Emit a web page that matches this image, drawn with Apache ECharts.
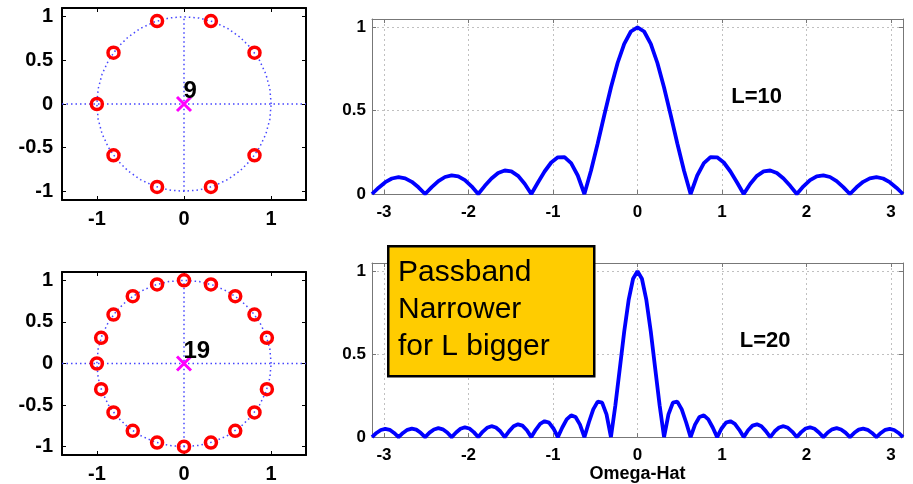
<!DOCTYPE html>
<html lang="en">
<head>
    <meta charset="UTF-8">
    <title>Running average filter - zeros and magnitude</title>
    <script type="text/javascript" src="https://cdn.jsdelivr.net/npm/echarts@6.0.0/dist/echarts.min.js"></script>
    <style>
        html, body { margin: 0; padding: 0; background: #fff; }
        #container { width: 913px; height: 484px; }
    </style>
</head>
<body>
<div id="container"></div>
<script type="text/javascript">

    // ---- data ----
    // unit circle (dotted reference), 10 degree steps
    var circleX = [1, 0.985, 0.940, 0.866, 0.766, 0.643, 0.5, 0.342, 0.174, 0, -0.174, -0.342, -0.5, -0.643, -0.766, -0.866, -0.940, -0.985,
        -1, -0.985, -0.940, -0.866, -0.766, -0.643, -0.5, -0.342, -0.174, 0, 0.174, 0.342, 0.5, 0.643, 0.766, 0.866, 0.940, 0.985, 1];
    var circleY = [0, 0.174, 0.342, 0.5, 0.643, 0.766, 0.866, 0.940, 0.985, 1, 0.985, 0.940, 0.866, 0.766, 0.643, 0.5, 0.342, 0.174,
        0, -0.174, -0.342, -0.5, -0.643, -0.766, -0.866, -0.940, -0.985, -1, -0.985, -0.940, -0.866, -0.766, -0.643, -0.5, -0.342, -0.174, 0];

    // zeros, L=10
    var zeros10X = [0.809, 0.309, -0.309, -0.809, -1, -0.809, -0.309, 0.309, 0.809];
    var zeros10Y = [0.588, 0.951, 0.951, 0.588, 0, -0.588, -0.951, -0.951, -0.588];
    // zeros, L=20
    var zeros20X = [0.951, 0.809, 0.588, 0.309, 0, -0.309, -0.588, -0.809, -0.951, -1,
        -0.951, -0.809, -0.588, -0.309, 0, 0.309, 0.588, 0.809, 0.951];
    var zeros20Y = [0.309, 0.588, 0.809, 0.951, 1, 0.951, 0.809, 0.588, 0.309, 0,
        -0.309, -0.588, -0.809, -0.951, -1, -0.951, -0.809, -0.588, -0.309];
    var poleCounts = ['9', '19'];

    // magnitude response, L=10
    var omega10 = [-3.1416, -3.0631, -2.9845, -2.9060, -2.8274, -2.7489, -2.6704, -2.5918,
        -2.5133, -2.4347, -2.3562, -2.2777, -2.1991, -2.1206, -2.0420, -1.9635,
        -1.8850, -1.8064, -1.7279, -1.6493, -1.5708, -1.4923, -1.4137, -1.3352,
        -1.2566, -1.1781, -1.0996, -1.0210, -0.9425, -0.8639, -0.7854, -0.7069,
        -0.6283, -0.5498, -0.4712, -0.3927, -0.3142, -0.2356, -0.1571, -0.0785,
        0,
        0.0785, 0.1571, 0.2356, 0.3142, 0.3927, 0.4712, 0.5498, 0.6283,
        0.7069, 0.7854, 0.8639, 0.9425, 1.0210, 1.0996, 1.1781, 1.2566,
        1.3352, 1.4137, 1.4923, 1.5708, 1.6493, 1.7279, 1.8064, 1.8850,
        1.9635, 2.0420, 2.1206, 2.1991, 2.2777, 2.3562, 2.4347, 2.5133,
        2.5918, 2.6704, 2.7489, 2.8274, 2.9060, 2.9845, 3.0631, 3.1416];
    var mag10 = [0, 0.038, 0.071, 0.093, 0.101, 0.094, 0.073, 0.040,
        0, 0.041, 0.077, 0.102, 0.112, 0.106, 0.083, 0.046,
        0, 0.049, 0.093, 0.126, 0.141, 0.136, 0.109, 0.062,
        0, 0.069, 0.135, 0.189, 0.220, 0.221, 0.185, 0.111,
        0, 0.141, 0.303, 0.474, 0.639, 0.786, 0.901, 0.975,
        1,
        0.975, 0.901, 0.786, 0.639, 0.474, 0.303, 0.141, 0,
        0.111, 0.185, 0.221, 0.220, 0.189, 0.135, 0.069, 0,
        0.062, 0.109, 0.136, 0.141, 0.126, 0.093, 0.049, 0,
        0.046, 0.083, 0.106, 0.112, 0.102, 0.077, 0.041, 0,
        0.040, 0.073, 0.094, 0.101, 0.093, 0.071, 0.038, 0];

    // magnitude response, L=20
    var omega20 = [-3.1416, -3.0892, -3.0369, -2.9845, -2.9322, -2.8798,
        -2.8274, -2.7751, -2.7227, -2.6704, -2.6180, -2.5656,
        -2.5133, -2.4609, -2.4086, -2.3562, -2.3038, -2.2515,
        -2.1991, -2.1468, -2.0944, -2.0420, -1.9897, -1.9373,
        -1.8850, -1.8326, -1.7802, -1.7279, -1.6755, -1.6232,
        -1.5708, -1.5184, -1.4661, -1.4137, -1.3614, -1.3090,
        -1.2566, -1.2043, -1.1519, -1.0996, -1.0472, -0.9948,
        -0.9425, -0.8901, -0.8378, -0.7854, -0.7330, -0.6807,
        -0.6283, -0.5760, -0.5236, -0.4712, -0.4189, -0.3665,
        -0.3142, -0.2618, -0.2094, -0.1571, -0.1047, -0.0524,
        0,
        0.0524, 0.1047, 0.1571, 0.2094, 0.2618, 0.3142,
        0.3665, 0.4189, 0.4712, 0.5236, 0.5760, 0.6283,
        0.6807, 0.7330, 0.7854, 0.8378, 0.8901, 0.9425,
        0.9948, 1.0472, 1.0996, 1.1519, 1.2043, 1.2566,
        1.3090, 1.3614, 1.4137, 1.4661, 1.5184, 1.5708,
        1.6232, 1.6755, 1.7279, 1.7802, 1.8326, 1.8850,
        1.9373, 1.9897, 2.0420, 2.0944, 2.1468, 2.1991,
        2.2515, 2.3038, 2.3562, 2.4086, 2.4609, 2.5133,
        2.5656, 2.6180, 2.6704, 2.7227, 2.7751, 2.8274,
        2.8798, 2.9322, 2.9845, 3.0369, 3.0892, 3.1416];
    var mag20 = [0, 0.025, 0.043, 0.050, 0.044, 0.025,
        0, 0.025, 0.044, 0.051, 0.045, 0.026,
        0, 0.027, 0.046, 0.054, 0.047, 0.028,
        0, 0.028, 0.050, 0.059, 0.052, 0.030,
        0, 0.032, 0.056, 0.066, 0.058, 0.035,
        0, 0.036, 0.065, 0.077, 0.069, 0.041,
        0, 0.044, 0.080, 0.096, 0.087, 0.052,
        0, 0.058, 0.107, 0.131, 0.121, 0.075,
        0, 0.088, 0.167, 0.214, 0.208, 0.137,
        0, 0.192, 0.414, 0.637, 0.827, 0.955,
        1,
        0.955, 0.827, 0.637, 0.414, 0.192, 0,
        0.137, 0.208, 0.214, 0.167, 0.088, 0,
        0.075, 0.121, 0.131, 0.107, 0.058, 0,
        0.052, 0.087, 0.096, 0.080, 0.044, 0,
        0.041, 0.069, 0.077, 0.065, 0.036, 0,
        0.035, 0.058, 0.066, 0.056, 0.032, 0,
        0.030, 0.052, 0.059, 0.050, 0.028, 0,
        0.028, 0.047, 0.054, 0.046, 0.027, 0,
        0.026, 0.045, 0.051, 0.044, 0.025, 0,
        0.025, 0.044, 0.050, 0.043, 0.025, 0];

    // tick labels
    var zpTicksX = [-1, 0, 1];
    var zpTicksY = [-1, -0.5, 0, 0.5, 1];
    var magTicksX = [-3, -2, -1, 0, 1, 2, 3];
    var magTicksY = [0, 0.5, 1];

    // ---- helpers ----
    function pairs(xs, ys) {
        var out = [];
        for (var i = 0; i < xs.length; i++) {
            out.push([xs[i], ys[i]]);
        }
        return out;
    }

    var FONT = '"Liberation Sans", Arial, sans-serif';

    // axes for the pole-zero plots (black box, ticks inside)
    function zpAxis(dim, grid, pos, withLabels) {
        var isX = dim === 'x';
        return {
            type: 'value',
            gridIndex: grid,
            position: pos,
            min: isX ? -1.4 : -1.1,
            max: isX ? 1.4 : 1.1,
            axisLine: { show: true, onZero: false, lineStyle: { color: '#000', width: 2 } },
            axisTick: { show: true, inside: true, length: 4, customValues: isX ? zpTicksX : zpTicksY,
                lineStyle: { color: '#000', width: 1 } },
            axisLabel: { show: withLabels, customValues: isX ? zpTicksX : zpTicksY,
                margin: isX ? 9 : 9, color: '#000', fontFamily: FONT, fontWeight: 'bold', fontSize: 20 },
            splitLine: { show: false }
        };
    }

    // axes for the magnitude plots (grey box, dotted grid)
    function magAxis(dim, grid, pos, withLabels) {
        var isX = dim === 'x';
        return {
            type: 'value',
            gridIndex: grid,
            position: pos,
            min: isX ? -3.1416 : 0,
            max: isX ? 3.1416 : 1.05,
            axisLine: { show: true, onZero: false, lineStyle: { color: '#777', width: 1 } },
            axisTick: { show: true, inside: true, length: 4, customValues: isX ? magTicksX : magTicksY,
                lineStyle: { color: '#777', width: 1 } },
            axisLabel: { show: withLabels, customValues: isX ? magTicksX : magTicksY,
                margin: isX ? 10 : 6, color: '#000', fontFamily: FONT, fontWeight: 'bold', fontSize: 17 },
            splitLine: { show: withLabels, lineStyle: { color: '#c0c0c0', width: 1, type: [2, 3] } }
        };
    }

    var dotted = { color: '#4646ff', width: 1.5, type: [1.5, 3] };

    function zpSeries(grid, zx, zy, count) {
        return [
            {
                type: 'line', xAxisIndex: grid, yAxisIndex: grid,
                data: pairs(circleX, circleY), showSymbol: false, lineStyle: dotted, z: 1
            },
            {
                type: 'line', xAxisIndex: grid, yAxisIndex: grid,
                data: [[-1.4, 0], [1.4, 0]], showSymbol: false, lineStyle: dotted, z: 1
            },
            {
                type: 'line', xAxisIndex: grid, yAxisIndex: grid,
                data: [[0, -1], [0, 1]], showSymbol: false, lineStyle: dotted, z: 1
            },
            {
                type: 'scatter', xAxisIndex: grid, yAxisIndex: grid,
                data: pairs(zx, zy), symbol: 'circle', symbolSize: 11,
                itemStyle: { color: 'rgba(0,0,0,0)', borderColor: '#ff0000', borderWidth: 3.5, opacity: 1 }, z: 3
            },
            {
                type: 'scatter', xAxisIndex: grid, yAxisIndex: grid,
                data: [[0, 0]], symbol: 'path://M0,0L10,10M10,0L0,10', symbolSize: 14,
                itemStyle: { color: 'none', borderColor: '#ff00ff', borderWidth: 3, opacity: 1 },
                label: { show: true, formatter: count, position: [9, -15], color: '#000',
                    fontFamily: FONT, fontWeight: 'bold', fontSize: 24 },
                z: 4
            }
        ];
    }

    function magSeries(grid, xs, ys, name, at) {
        return [
            {
                type: 'line', xAxisIndex: grid, yAxisIndex: grid,
                data: pairs(xs, ys), showSymbol: false,
                lineStyle: { color: '#0000ff', width: 3.8 }, z: 3
            },
            {
                type: 'scatter', xAxisIndex: grid, yAxisIndex: grid,
                data: [at], symbolSize: 1, itemStyle: { color: 'rgba(0,0,0,0)' },
                label: { show: true, formatter: name, position: 'inside', color: '#000', opacity: 1,
                    textBorderWidth: 0, fontFamily: FONT, fontWeight: 'bold', fontSize: 22 }
            }
        ];
    }

    var dom = document.getElementById('container');
    var myChart = echarts.init(dom, null, { renderer: 'canvas' });

    var xAxes = [
        zpAxis('x', 0, 'bottom', true), zpAxis('x', 1, 'bottom', true),
        magAxis('x', 2, 'bottom', true), magAxis('x', 3, 'bottom', true),
        zpAxis('x', 0, 'top', false), zpAxis('x', 1, 'top', false),
        magAxis('x', 2, 'top', false), magAxis('x', 3, 'top', false)
    ];
    xAxes[3].name = 'Omega-Hat';
    xAxes[3].nameLocation = 'middle';
    xAxes[3].nameGap = 27;
    xAxes[3].nameTextStyle = { color: '#000', fontFamily: FONT, fontWeight: 'bold', fontSize: 18 };

    var yAxes = [
        zpAxis('y', 0, 'left', true), zpAxis('y', 1, 'left', true),
        magAxis('y', 2, 'left', true), magAxis('y', 3, 'left', true),
        zpAxis('y', 0, 'right', false), zpAxis('y', 1, 'right', false),
        magAxis('y', 2, 'right', false), magAxis('y', 3, 'right', false)
    ];

    var option = {
        backgroundColor: '#fff',
        animation: false,
        grid: [
            { left: 62, top: 8, width: 244, height: 192 },
            { left: 62, top: 272, width: 244, height: 190 },
            { left: 372, top: 19, width: 531, height: 175 },
            { left: 372, top: 263, width: 531, height: 175 }
        ],
        xAxis: xAxes,
        yAxis: yAxes,
        series: [].concat(
            zpSeries(0, zeros10X, zeros10Y, poleCounts[0]),
            zpSeries(1, zeros20X, zeros20Y, poleCounts[1]),
            magSeries(2, omega10, mag10, 'L=10', [1.41, 0.58]),
            magSeries(3, omega20, mag20, 'L=20', [1.51, 0.58])
        ),
        graphic: [
            {
                type: 'rect', left: 387, top: 245, z: 100,
                shape: { width: 206, height: 130 },
                style: { fill: '#ffcc00', stroke: '#000', lineWidth: 2.5 }
            },
            {
                type: 'text', left: 398, top: 254, z: 101,
                style: { text: 'Passband\nNarrower\nfor L bigger', fill: '#000',
                    font: '30px "Liberation Sans", Arial, sans-serif', lineHeight: 37 }
            }
        ]
    };

    myChart.setOption(option);
    window.addEventListener('resize', myChart.resize);
</script>
</body>
</html>
